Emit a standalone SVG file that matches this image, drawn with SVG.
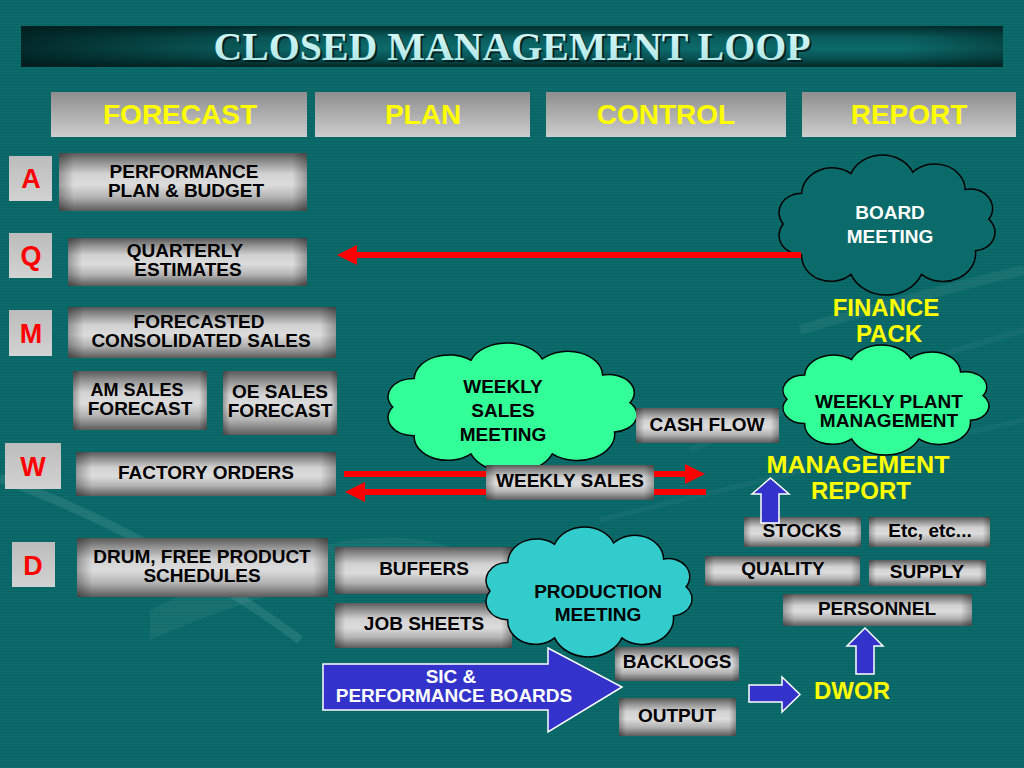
<svg xmlns="http://www.w3.org/2000/svg" xmlns:xlink="http://www.w3.org/1999/xlink" width="1024" height="768" viewBox="0 0 1024 768">
<defs>
<style>
.t{font-family:'Liberation Sans',Arial,sans-serif;font-weight:bold;font-size:19px;text-anchor:middle;fill:#000}
.s18{font-size:18px}
.hd{font-size:28px;fill:#ffff00}
.lt{font-size:27px;fill:#ff0000}
.yl{font-size:24px;fill:#ffff00}
.wh{fill:#ffffff}
.ttl{font-family:'Liberation Serif','Times New Roman',serif;font-weight:bold;font-size:40px;text-anchor:middle}
.box{fill:url(#gBox)}
.edge{fill:url(#gEdge)}
.hbox{fill:url(#gHead)}
.lbox{fill:url(#gLet)}
.cl{stroke:#000;stroke-width:1.5}
.blue{fill:#3333cc;stroke:#ffffff;stroke-width:1.5}
.red{fill:none;stroke:#ff0000;stroke-width:6}
.sw{fill:none;stroke:#ffffff}
</style>
<linearGradient id="gBox" x1="0" y1="0" x2="0" y2="1">
<stop offset="0" stop-color="#5a5a5a"/>
<stop offset="0.14" stop-color="#8c8c8c"/>
<stop offset="0.36" stop-color="#d2d2d2"/>
<stop offset="0.55" stop-color="#dcdcdc"/>
<stop offset="0.76" stop-color="#b4b4b4"/>
<stop offset="1" stop-color="#5c5c5c"/>
</linearGradient>
<linearGradient id="gEdge" x1="0" y1="0" x2="1" y2="0">
<stop offset="0" stop-color="#000" stop-opacity="0.3"/>
<stop offset="0.06" stop-color="#000" stop-opacity="0"/>
<stop offset="0.94" stop-color="#000" stop-opacity="0"/>
<stop offset="1" stop-color="#000" stop-opacity="0.3"/>
</linearGradient>
<linearGradient id="gHead" x1="0" y1="0" x2="0" y2="1">
<stop offset="0" stop-color="#8e8e8e"/>
<stop offset="1" stop-color="#cdcdcd"/>
</linearGradient>
<linearGradient id="gLet" x1="0" y1="0" x2="0" y2="1">
<stop offset="0" stop-color="#bcbcbc"/>
<stop offset="1" stop-color="#d2d2d2"/>
</linearGradient>
<linearGradient id="gTitle" x1="0" y1="0" x2="0" y2="1">
<stop offset="0" stop-color="#022d2d"/>
<stop offset="0.28" stop-color="#0a5c5c"/>
<stop offset="0.55" stop-color="#0d6a6a"/>
<stop offset="0.8" stop-color="#084f4f"/>
<stop offset="1" stop-color="#022626"/>
</linearGradient>
<linearGradient id="gTitleH" x1="0" y1="0" x2="1" y2="0">
<stop offset="0" stop-color="#001a1a" stop-opacity="0.8"/>
<stop offset="0.3" stop-color="#001a1a" stop-opacity="0"/>
<stop offset="0.9" stop-color="#001a1a" stop-opacity="0"/>
<stop offset="1" stop-color="#001a1a" stop-opacity="0.4"/>
</linearGradient>
<linearGradient id="gTtlText" x1="0" y1="0" x2="0" y2="1">
<stop offset="0" stop-color="#e0fcfc"/>
<stop offset="1" stop-color="#a8e2e2"/>
</linearGradient>
<pattern id="stripes" width="4" height="3" patternUnits="userSpaceOnUse">
<rect width="4" height="1" fill="#000" fill-opacity="0.07"/>
</pattern>
<path id="cloud" vector-effect="non-scaling-stroke" d="M8,65 A20,20 0 0 1 24.6,33.4 A27,27 0 0 1 68.5,13.3 A30,30 0 0 1 123.8,11.9 A27,27 0 0 1 170.5,29.6 A20,20 0 0 1 191.6,60.2 A19,19 0 0 1 179.7,92.5 A29,29 0 0 1 131.5,116.7 A34,34 0 0 1 68.5,116.7 A26,26 0 0 1 24.6,96.6 A20,20 0 0 1 8,65 Z"/>
<marker id="ah" viewBox="0 -10 20 20" markerWidth="20" markerHeight="20" refX="0" refY="0" orient="auto" markerUnits="userSpaceOnUse">
<path d="M0,-10 L20,0 L0,10 Z" fill="#ff0000"/>
</marker>
</defs>

<g id="background">
<rect width="1024" height="768" fill="#0b6b6b"/>
<rect width="1024" height="768" fill="url(#stripes)"/>
<path class="sw" stroke-opacity="0.09" stroke-width="9" d="M0,478 Q60,500 120,530 Q220,580 300,640"/>
<path fill="#ffffff" fill-opacity="0.05" d="M150,610 Q260,555 350,540 Q430,530 480,560 Q400,560 330,580 Q240,600 150,640 Z"/>
<path class="sw" stroke-opacity="0.06" stroke-width="10" d="M800,330 Q900,300 1024,270"/>
<path class="sw" stroke-opacity="0.04" stroke-width="6" d="M690,450 Q850,380 1024,330"/>
<path class="sw" stroke-opacity="0.04" stroke-width="5" d="M600,520 Q800,470 1024,420"/>
</g>

<g id="title">
<rect x="21" y="26" width="982" height="41" fill="url(#gTitle)"/>
<rect x="21" y="26" width="982" height="41" fill="url(#gTitleH)"/>
<text class="ttl" x="514" y="62" fill="#001818" fill-opacity="0.85" textLength="597" lengthAdjust="spacingAndGlyphs">CLOSED MANAGEMENT LOOP</text>
<text class="ttl" x="512" y="60" fill="url(#gTtlText)" textLength="597" lengthAdjust="spacingAndGlyphs">CLOSED MANAGEMENT LOOP</text>
</g>

<g id="head-forecast"><rect class="hbox" x="51" y="92" width="256" height="45"/><text class="t hd" x="180" y="124">FORECAST</text></g>
<g id="head-plan"><rect class="hbox" x="315" y="92" width="215" height="45"/><text class="t hd" x="423" y="124">PLAN</text></g>
<g id="head-control"><rect class="hbox" x="546" y="92" width="240" height="45"/><text class="t hd" x="666" y="124">CONTROL</text></g>
<g id="head-report"><rect class="hbox" x="802" y="92" width="214" height="45"/><text class="t hd" x="909" y="124">REPORT</text></g>

<g id="letter-a"><rect class="lbox" x="9" y="156" width="43" height="45"/><text class="t lt" x="31" y="188">A</text></g>
<g id="letter-q"><rect class="lbox" x="9" y="233" width="43" height="45"/><text class="t lt" x="31" y="265">Q</text></g>
<g id="letter-m"><rect class="lbox" x="9" y="310" width="43" height="46"/><text class="t lt" x="31" y="343">M</text></g>
<g id="letter-w"><rect class="lbox" x="5" y="443" width="56" height="46"/><text class="t lt" x="33" y="476">W</text></g>
<g id="letter-d"><rect class="lbox" x="12" y="542" width="43" height="45"/><text class="t lt" x="33" y="575">D</text></g>

<g id="performance-plan"><rect class="box" x="59" y="153" width="248" height="58"/><rect class="edge" x="59" y="153" width="248" height="58"/><text class="t" x="184" y="178">PERFORMANCE</text><text class="t" x="186" y="197">PLAN &amp; BUDGET</text></g>
<g id="quarterly-estimates"><rect class="box" x="68" y="238" width="239" height="48"/><rect class="edge" x="68" y="238" width="239" height="48"/><text class="t" x="185" y="257">QUARTERLY</text><text class="t" x="188" y="276">ESTIMATES</text></g>
<g id="forecasted-sales"><rect class="box" x="68" y="307" width="268" height="51"/><rect class="edge" x="68" y="307" width="268" height="51"/><text class="t" x="199" y="328">FORECASTED</text><text class="t" x="201" y="347">CONSOLIDATED SALES</text></g>
<g id="am-sales"><rect class="box" x="73" y="371" width="134" height="59"/><rect class="edge" x="73" y="371" width="134" height="59"/><text class="t s18" x="137" y="396">AM SALES</text><text class="t" x="140" y="415">FORECAST</text></g>
<g id="oe-sales"><rect class="box" x="223" y="371" width="114" height="64"/><rect class="edge" x="223" y="371" width="114" height="64"/><text class="t" x="280" y="398">OE SALES</text><text class="t" x="280" y="417">FORECAST</text></g>
<g id="factory-orders"><rect class="box" x="76" y="452" width="260" height="44"/><rect class="edge" x="76" y="452" width="260" height="44"/><text class="t" x="206" y="479">FACTORY ORDERS</text></g>
<g id="drum-schedules"><rect class="box" x="77" y="538" width="251" height="59"/><rect class="edge" x="77" y="538" width="251" height="59"/><text class="t" x="202" y="563">DRUM, FREE PRODUCT</text><text class="t" x="202" y="582">SCHEDULES</text></g>

<g id="buffers"><rect class="box" x="335" y="547" width="177" height="47"/><rect class="edge" x="335" y="547" width="177" height="47"/><text class="t" x="424" y="575">BUFFERS</text></g>
<g id="job-sheets"><rect class="box" x="335" y="603" width="177" height="45"/><rect class="edge" x="335" y="603" width="177" height="45"/><text class="t" x="424" y="630">JOB SHEETS</text></g>

<g id="sic-boards"><polygon class="blue" points="323,664 548,664 548,648 622,687 548,732 548,710 323,710"/><text class="t wh" x="451" y="683">SIC &amp;</text><text class="t wh" x="454" y="702">PERFORMANCE BOARDS</text></g>

<g id="production-meeting"><use xlink:href="#cloud" class="cl" fill="#33cccc" transform="translate(481.41,532.25) scale(1.0685,0.9047)"/><text class="t" x="598" y="598">PRODUCTION</text><text class="t" x="598" y="621">MEETING</text></g>

<g id="backlogs"><rect class="box" x="615" y="647" width="124" height="34"/><rect class="edge" x="615" y="647" width="124" height="34"/><text class="t" x="677" y="668">BACKLOGS</text></g>
<g id="output"><rect class="box" x="619" y="698" width="117" height="38"/><rect class="edge" x="619" y="698" width="117" height="38"/><text class="t" x="677" y="722">OUTPUT</text></g>

<g id="weekly-sales-meeting"><use xlink:href="#cloud" class="cl" fill="#33ff99" transform="translate(382.45,348.25) scale(1.2915,0.9047)"/><text class="t" x="503" y="393">WEEKLY</text><text class="t" x="503" y="417">SALES</text><text class="t" x="503" y="441">MEETING</text></g>
<g id="weekly-sales"><rect class="box" x="486" y="465" width="168" height="35"/><rect class="edge" x="486" y="465" width="168" height="35"/><text class="t" x="570" y="487">WEEKLY SALES</text></g>
<g id="cash-flow"><rect class="box" x="636" y="408" width="143" height="35"/><rect class="edge" x="636" y="408" width="143" height="35"/><text class="t" x="707" y="431">CASH FLOW</text></g>

<g id="board-meeting"><use xlink:href="#cloud" class="cl" fill="#0b6b6b" transform="translate(774.18,160.65) scale(1.1203,0.9743)"/><text class="t wh" x="890" y="219">BOARD</text><text class="t wh" x="890" y="243">MEETING</text></g>
<g id="finance-pack"><text class="t yl" x="886" y="316">FINANCE</text><text class="t yl" x="889" y="342">PACK</text></g>
<g id="weekly-plant-management"><use xlink:href="#cloud" class="cl" fill="#33ff99" transform="translate(778.41,349.44) scale(1.0685,0.7655)"/><text class="t" x="889" y="408">WEEKLY PLANT</text><text class="t" x="889" y="427">MANAGEMENT</text></g>
<g id="management-report"><text class="t yl" x="858" y="473" textLength="183" lengthAdjust="spacingAndGlyphs">MANAGEMENT</text><text class="t yl" x="861" y="499">REPORT</text></g>

<g id="stocks"><rect class="box" x="744" y="517" width="117" height="30"/><rect class="edge" x="744" y="517" width="117" height="30"/><text class="t" x="802" y="537">STOCKS</text></g>
<g id="etc"><rect class="box" x="869" y="517" width="121" height="30"/><rect class="edge" x="869" y="517" width="121" height="30"/><text class="t" x="930" y="537">Etc, etc...</text></g>
<g id="quality"><rect class="box" x="705" y="556" width="155" height="30"/><rect class="edge" x="705" y="556" width="155" height="30"/><text class="t" x="783" y="575">QUALITY</text></g>
<g id="supply"><rect class="box" x="869" y="560" width="117" height="26"/><rect class="edge" x="869" y="560" width="117" height="26"/><text class="t" x="927" y="578">SUPPLY</text></g>
<g id="personnel"><rect class="box" x="783" y="594" width="189" height="32"/><rect class="edge" x="783" y="594" width="189" height="32"/><text class="t" x="877" y="615">PERSONNEL</text></g>
<g id="dwor"><text class="t yl" x="852" y="699">DWOR</text></g>

<g id="connectors">
<path class="red" d="M801,255 H357" marker-end="url(#ah)"/>
<path class="red" d="M344,474 H486"/>
<path class="red" d="M654,474 H685" marker-end="url(#ah)"/>
<path class="red" d="M706,492 H654"/>
<path class="red" d="M486,492 H365" marker-end="url(#ah)"/>
<polygon class="blue" points="761,523 761,494 752,494 770.5,478 789,494 779,494 779,523"/>
<polygon class="blue" points="749,685 782,685 782,677 800,694.5 782,712 782,702 749,702"/>
<polygon class="blue" points="856,674 856,646 847,646 865,628 883,646 874,646 874,674"/>
</g>
</svg>
